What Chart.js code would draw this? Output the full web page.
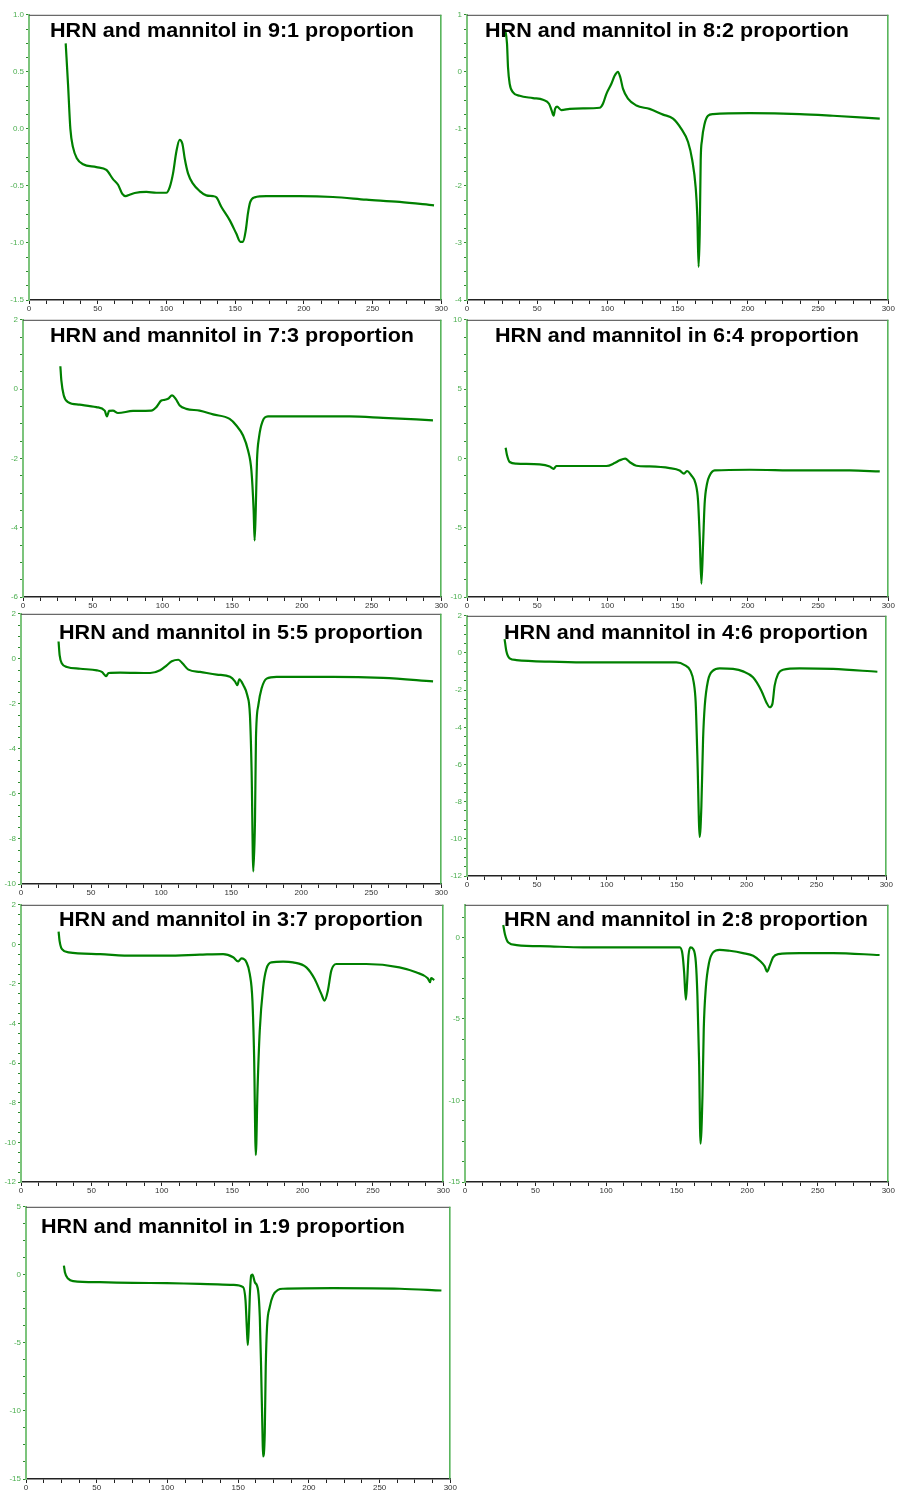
<!DOCTYPE html>
<html><head><meta charset="utf-8">
<script src="https://cdn.jsdelivr.net/npm/chart.js@4.4.1/dist/chart.umd.min.js"></script>
<style>
html,body{margin:0;padding:0;background:#fff;}
body{width:899px;height:1494px;position:relative;overflow:hidden;}
canvas{position:absolute;}
</style></head><body>
<script>
// ---- DATA ----
const titles = ["HRN and mannitol in 9:1 proportion","HRN and mannitol in 8:2 proportion","HRN and mannitol in 7:3 proportion","HRN and mannitol in 6:4 proportion","HRN and mannitol in 5:5 proportion","HRN and mannitol in 4:6 proportion","HRN and mannitol in 3:7 proportion","HRN and mannitol in 2:8 proportion","HRN and mannitol in 1:9 proportion"];

const t91 = [26.7,28.4,30.1,32,34.9,39.3,49,56.3,61.1,64.8,67.9,70.3,73.2,76.9,85.4,92.6,99.9,102.4,104.8,107.2,109.6,111.6,113.3,115.7,119.3,124.2,129,133.9,136.3,140,146,150.9,153.8,155.7,157.7,159.3,161,164.2,172.7,196.9,221.2,245.4,269.7,294.7];
const h91 = [0.75,0.39,0.0,-0.16,-0.26,-0.31,-0.335,-0.36,-0.44,-0.49,-0.57,-0.59,-0.577,-0.562,-0.553,-0.56,-0.56,-0.51,-0.39,-0.20,-0.096,-0.13,-0.26,-0.39,-0.48,-0.545,-0.583,-0.59,-0.60,-0.685,-0.80,-0.92,-0.99,-0.99,-0.89,-0.74,-0.64,-0.60,-0.59,-0.59,-0.597,-0.62,-0.64,-0.67];

const t82 = [27.1,28.5,29.2,30.4,32.8,37.5,47,54.1,58.4,60.3,61.7,62.7,64.1,67.2,73.1,82.6,94.5,96.8,99.2,102.8,105.1,107.5,109.2,111.1,114.6,120.6,130,139.6,146.7,152.6,157.4,160.4,162.8,164,164.9,165.7,166.4,167.3,169.2,171.6,175.2,201.3,236.9,260.6,293.9];
const h82 = [0.75,0.49,0.08,-0.21,-0.36,-0.42,-0.46,-0.49,-0.56,-0.68,-0.77,-0.65,-0.61,-0.67,-0.65,-0.64,-0.63,-0.56,-0.39,-0.21,-0.07,0.0,-0.1,-0.30,-0.47,-0.59,-0.65,-0.75,-0.82,-1.0,-1.23,-1.55,-2.02,-2.54,-3.42,-2.84,-1.55,-1.20,-0.91,-0.77,-0.74,-0.725,-0.74,-0.77,-0.82];

const t73 = [26.8,27.5,29.2,32.3,40.6,52.6,58.6,60.2,61.7,64.5,68.1,78.9,92,95.6,99.2,101.6,104,106.9,109.5,112.4,117.1,126.7,136.3,148.2,153,157.8,161.4,163.8,165.4,166.1,166.9,167.8,169.3,171.6,175.7,198.4,234.3,258.2,294];
const h73 = [0.66,0.25,-0.18,-0.375,-0.45,-0.52,-0.62,-0.79,-0.63,-0.62,-0.69,-0.63,-0.62,-0.52,-0.33,-0.31,-0.28,-0.18,-0.28,-0.47,-0.57,-0.62,-0.73,-0.86,-1.05,-1.34,-1.77,-2.35,-3.5,-4.37,-3.5,-2.06,-1.38,-0.95,-0.79,-0.79,-0.79,-0.83,-0.90];

const t64 = [27.5,28.5,30.4,35.1,51.7,58.9,61.7,63.6,70.7,99.2,105.1,108.7,112.7,115.8,120.6,130,144.3,151.4,154.5,156.6,159.7,162.8,164.5,165.7,166.9,168.1,169.2,170.9,172.8,176.4,201.3,236.9,272.5,293.9];
const h64 = [0.77,0.22,-0.26,-0.38,-0.43,-0.58,-0.75,-0.55,-0.55,-0.55,-0.34,-0.14,-0.02,-0.26,-0.53,-0.58,-0.70,-0.87,-1.1,-0.91,-1.23,-1.83,-3.03,-5.67,-9.04,-6.15,-3.27,-1.83,-1.23,-0.87,-0.82,-0.87,-0.87,-0.94];

const t55 = [26.8,27.6,29.2,32.8,42.3,54.2,57.7,60.8,62.5,70.8,92.2,99.3,104,107.6,112.3,115.4,119.5,127.8,139.7,149.2,152.7,154.4,155.8,158.7,161.5,163.4,164.6,165.8,167,167.7,169.4,171.7,175.3,182.4,222.8,258.4,294.1];
const h55 = [0.77,0.15,-0.21,-0.36,-0.44,-0.51,-0.58,-0.77,-0.63,-0.61,-0.63,-0.51,-0.29,-0.11,-0.04,-0.21,-0.48,-0.58,-0.70,-0.80,-1.0,-1.17,-0.91,-1.17,-1.62,-2.5,-5.0,-9.44,-7.2,-3.53,-2.06,-1.32,-0.88,-0.80,-0.80,-0.85,-1.0];

const t46 = [26.9,28.1,30.5,35.3,59.1,83,106.8,130.7,149.8,155.7,159.8,162.2,163.6,164.8,166.5,167.7,168.9,170.1,172.4,176,180.8,190.3,197.5,204.6,210.6,214.2,216.6,218.5,220.1,222.5,226.1,238,261.9,293.6];
const h46 = [0.75,0.12,-0.29,-0.38,-0.47,-0.51,-0.51,-0.51,-0.51,-0.65,-0.95,-1.58,-2.66,-5.52,-9.9,-8.2,-4.62,-2.84,-1.49,-0.95,-0.83,-0.86,-0.99,-1.31,-2.03,-2.66,-2.92,-2.74,-1.76,-1.14,-0.9,-0.83,-0.86,-1.01];

const t37 = [26.7,27.4,29.1,33.8,56.2,79.8,103.5,127.1,143.6,150.7,154.3,156.6,160.2,162.5,164.4,165.6,166.8,168,169.6,172,174.3,177.9,186.2,193.2,202.7,208.6,213.3,215.7,218,220.4,224,245.2,268.8,280.6,288.9,290.6,291.3,293.6];
const h37 = [0.65,0.18,-0.24,-0.40,-0.49,-0.57,-0.57,-0.52,-0.49,-0.65,-0.86,-0.71,-0.91,-1.49,-2.84,-5.69,-10.64,-7.37,-4.35,-2.17,-1.24,-0.91,-0.87,-0.91,-1.16,-1.75,-2.5,-2.84,-2.33,-1.33,-0.99,-0.99,-1.16,-1.41,-1.71,-1.91,-1.70,-1.80];

const t28 = [27.1,28.3,30.7,36.6,60.2,83.8,107.4,131,152.2,154.1,155.3,156.5,157.4,158.4,159.8,161.7,163.6,164.7,165.9,166.9,168.3,169.2,170.6,173,175.8,180.5,187.6,197,204.2,208.9,212.4,214.1,216,218.3,221.9,237.2,260.8,293.8];
const h28 = [0.76,0.2,-0.31,-0.47,-0.55,-0.61,-0.61,-0.61,-0.61,-1.02,-2.14,-3.82,-2.76,-1.12,-0.61,-0.71,-1.53,-3.57,-7.65,-12.65,-9.69,-5.61,-3.16,-1.53,-0.92,-0.76,-0.82,-0.96,-1.12,-1.43,-1.78,-2.10,-1.73,-1.22,-1.02,-0.96,-0.96,-1.08];

const t19 = [26.8,27.5,29.9,33.4,52.3,75.8,99.4,122.9,146.5,153.5,155.2,156.1,156.8,157.5,158.2,159.2,160.1,161.8,164.1,165.3,166.2,167.2,167.6,168.8,169.5,170.4,172.3,174.7,178.2,181.8,217.1,264.3,293.7];
const h19 = [0.68,0.2,-0.29,-0.46,-0.54,-0.59,-0.61,-0.66,-0.73,-0.90,-1.88,-3.83,-5.17,-3.83,-1.63,-0.05,0.02,-0.54,-1.15,-3.10,-6.76,-11.63,-13.34,-11.63,-6.76,-3.83,-2.37,-1.51,-1.10,-1.02,-0.98,-1.02,-1.15];

const temps = [t91,t82,t73,t64,t55,t46,t37,t28,t19];
const heats = [h91,h82,h73,h64,h55,h46,h37,h28,h19];

// axis ticks
const xMin = 0, xMax = 300, xMajor = 50, xMinor = 12.5;
const yMins  = [-1.5,-4,-6,-10,-10,-12,-12,-15,-15];
const yMaxs  = [1,1,2,10,2,2,2,2,5];
const yMajor = [0.5,1,2,5,2,2,2,5,5];
const yMinor = [0.125,0.25,0.5,1.25,0.5,0.5,0.5,1.25,1.25];
const yDecimals = [1,0,0,0,0,0,0,0,0];

// ---- LAYOUT (plot areas in page px: left, top, right, bottom) ----
const boxes = [[29,14,442,300],[467,14,889,300],[23,319,442,597],[467,319,889,597],[21,613,442,884],[467,615,887,876],[21,904,444,1182],[465,904,889,1182],[26,1206,451,1479]];
const titlePos = [[21,22],[18,22],[27,22],[28,22],[38,25],[37,23],[38,21],[39,21],[15,26]];
const TITLE_W = 364;
const YW = 30, XH = 16, PT = 6, PR = 6;

const LINE = '#008000', AXLINE = '#7cc47c', TICKG = '#2e8b2e', LBLG = '#4caf50';

const frameTitle = {
  id: 'frameTitle',
  afterDraw(chart, args, opts) {
    const {ctx, chartArea: a} = chart;
    ctx.save();
    ctx.lineWidth = 1;
    ctx.strokeStyle = '#444';
    ctx.beginPath(); ctx.moveTo(a.left, a.top + 0.5); ctx.lineTo(a.right, a.top + 0.5); ctx.stroke();
    ctx.strokeStyle = '#4caf50'; ctx.lineWidth = 1.5;
    ctx.beginPath(); ctx.moveTo(a.right - 0.5, a.top); ctx.lineTo(a.right - 0.5, a.bottom); ctx.stroke();
    ctx.font = 'bold 21px "Liberation Sans", Arial, sans-serif';
    ctx.fillStyle = '#000';
    ctx.textBaseline = 'alphabetic';
    ctx.textAlign = 'left';
    const w = ctx.measureText(opts.text).width;
    ctx.translate(a.left + opts.dx, a.top + opts.dy);
    ctx.scale(TITLE_W / w, 1);
    ctx.fillText(opts.text, 0, 0);
    ctx.restore();
  }
};

function tickList(min, max, step) {
  const n = Math.round((max - min) / step);
  const out = [];
  for (let i = 0; i <= n; i++) out.push({value: +(min + i * step).toFixed(6)});
  return out;
}
function isMajor(v, major) { const r = v / major; return Math.abs(r - Math.round(r)) < 1e-6; }

for (let i = 0; i < 9; i++) {
  const [L, T, R, B] = boxes[i];
  const cv = document.createElement('canvas');
  const W = R - L + YW + PR, H = B - T + PT + XH;
  cv.width = W; cv.height = H;
  cv.style.left = (L - YW) + 'px'; cv.style.top = (T - PT) + 'px';
  cv.style.width = W + 'px'; cv.style.height = H + 'px';
  document.body.appendChild(cv);
  const n = Math.min(temps[i].length, heats[i].length);
  const pts = [];
  for (let k = 0; k < n; k++) pts.push({x: temps[i][k], y: heats[i][k]});
  new Chart(cv, {
    type: 'line',
    data: { datasets: [{ data: pts, borderColor: LINE, borderWidth: 2.2, pointRadius: 0, fill: false, cubicInterpolationMode: 'monotone' }] },
    options: {
      responsive: false, animation: false, devicePixelRatio: 1,
      layout: { padding: { left: 0, top: PT, right: PR, bottom: 0 } },
      plugins: { legend: { display: false }, tooltip: { enabled: false }, title: { display: false },
        frameTitle: { text: titles[i], dx: titlePos[i][0], dy: titlePos[i][1] } },
      scales: {
        x: {
          type: 'linear', min: xMin, max: xMax,
          afterFit: s => { s.height = XH; },
          afterBuildTicks: s => { s.ticks = tickList(xMin, xMax, xMinor); },
          grid: { drawOnChartArea: false, drawTicks: true, tickLength: 4, color: '#222', tickWidth: 1 },
          border: { display: true, color: '#222', width: 1.5 },
          ticks: { autoSkip: false, maxRotation: 0, minRotation: 0, padding: 0, color: '#333',
            font: { family: 'Arial, "Liberation Sans", sans-serif', size: 8 },
            callback: v => isMajor(v, xMajor) ? String(v) : '' }
        },
        y: {
          type: 'linear', min: yMins[i], max: yMaxs[i],
          afterFit: s => { s.width = YW; },
          afterBuildTicks: s => { s.ticks = tickList(yMins[i], yMaxs[i], yMinor[i]); },
          grid: { drawOnChartArea: false, drawTicks: true, tickLength: 3, color: TICKG, tickWidth: 1 },
          border: { display: true, color: AXLINE, width: 2 },
          ticks: { autoSkip: false, padding: 2, color: LBLG,
            font: { family: 'Arial, "Liberation Sans", sans-serif', size: 8 },
            callback: v => isMajor(v, yMajor[i]) ? v.toFixed(yDecimals[i]) : '' }
        }
      }
    },
    plugins: [frameTitle]
  });
}
</script>
</body></html>
